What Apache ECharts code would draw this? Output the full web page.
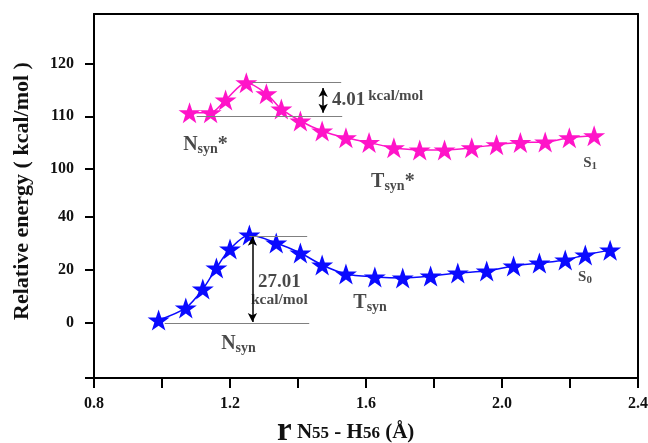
<!DOCTYPE html>
<html>
<head>
<meta charset="utf-8">
<script src="https://cdn.jsdelivr.net/npm/echarts@6/dist/echarts.min.js"></script>
<style>
html, body { margin: 0; padding: 0; background: #ffffff; }
#chart { width: 648px; height: 443px; }
</style>
</head>
<body>
<div id="chart"></div>
<script>
// N55-H56 distance (Å) and relative energy (kcal/mol) along the scan
const s0Distance = [0.99, 1.07, 1.12, 1.16, 1.20, 1.257, 1.336, 1.407, 1.471, 1.541, 1.626, 1.708, 1.790, 1.870, 1.955, 2.034, 2.110, 2.186, 2.245, 2.318];
const s0Energy   = [1.1, 5.7, 12.8, 20.8, 27.9, 33.2, 30.2, 26.4, 21.9, 18.5, 17.4, 17.0, 17.7, 18.9, 19.6, 21.5, 22.6, 23.8, 25.7, 27.5];

const s1Distance = [1.081, 1.143, 1.187, 1.248, 1.307, 1.351, 1.407, 1.471, 1.541, 1.609, 1.682, 1.758, 1.831, 1.911, 1.984, 2.054, 2.127, 2.198, 2.271];
const s1Energy   = [110.7, 110.7, 113.1, 116.4, 114.3, 111.4, 109.1, 107.2, 105.9, 105.0, 104.0, 103.6, 103.6, 104.0, 104.6, 105.0, 105.1, 105.9, 106.3];

// Axis ticks
const xLabelTicks = [0.8, 1.2, 1.6, 2.0, 2.4];
const xAllTicks = [0.8, 1.0, 1.2, 1.4, 1.6, 1.8, 2.0, 2.2, 2.4];
const upperTicks = [100, 110, 120];
const lowerTicks = [0, 20, 40];

// Axis ranges of the two stacked panels (broken energy axis)
const upperRange = [95, 129.5];
const lowerRange = [-20.75, 48.3];

// Barrier guides: [startR, endR, energy]
const s1Guides = [[1.266, 1.527, 116.4], [1.102, 1.530, 110.1]];
const s0Guides = [[1.257, 1.427, 32.8], [1.008, 1.433, 0]];
const s1Arrow = [1.474, 115.4, 110.7];
const s0Arrow = [1.266, 32.5, 0.4];

const PINK = '#ff14c8';
const BLUE = '#0a0aff';
const FONT = '"Liberation Serif", "Times New Roman", serif';
const STAR = 'path://M50,0 L61.8,35.3 L98.9,35.3 L68.9,57.1 L80.3,92.7 L50,70.8 L19.7,92.7 L31.1,57.1 L1.1,35.3 L38.2,35.3 Z';

const zip = (a, b) => a.map((v, i) => [v, b[i]]);

function guideLines(guides, arrow) {
  const lines = guides.map(g => [
    { coord: [g[0], g[2]], symbol: 'none', lineStyle: { color: '#808080', width: 1.2, type: 'solid' } },
    { coord: [g[1], g[2]], symbol: 'none' }
  ]);
  lines.push([
    { coord: [arrow[0], arrow[1]], symbol: 'arrow', symbolSize: [7, 9], lineStyle: { color: '#000', width: 1.5, type: 'solid' } },
    { coord: [arrow[0], arrow[2]], symbol: 'arrow', symbolSize: [7, 9] }
  ]);
  return {
    silent: true,
    animation: false,
    label: { show: false },
    symbol: ['none', 'none'],
    lineStyle: { type: 'solid' },
    data: lines
  };
}

const INK = '#1a1a1a';
const richBase = {
  b: { fontFamily: FONT, fontWeight: 'bold', fontSize: 20, color: INK },
  s: { fontFamily: FONT, fontWeight: 'bold', fontSize: 14, color: INK, padding: [9, 0, 0, 0] },
  m: { fontFamily: FONT, fontWeight: 'bold', fontSize: 15, color: INK },
  n: { fontFamily: FONT, fontWeight: 'bold', fontSize: 19, color: INK },
  k: { fontFamily: FONT, fontWeight: 'bold', fontSize: 15.5, color: INK },
  ks: { fontFamily: FONT, fontWeight: 'bold', fontSize: 15, color: INK, padding: [0, 0, 7, 3] },
  sub: { fontFamily: FONT, fontWeight: 'bold', fontSize: 11, color: INK, padding: [6, 0, 0, 0] }
};

function textSeries(xIdx, yIdx, items) {
  return {
    type: 'scatter',
    xAxisIndex: xIdx,
    yAxisIndex: yIdx,
    symbolSize: 0,
    silent: true,
    animation: false,
    z: 5,
    data: items.map(it => ({
      value: [it.r, it.e],
      label: {
        show: true,
        position: 'inside',
        align: it.align || 'center',
        verticalAlign: 'middle',
        formatter: it.text,
        rich: richBase,
        lineHeight: it.lh || 20
      }
    }))
  };
}

const chart = echarts.init(document.getElementById('chart'), null, { renderer: 'canvas' });

const axisLineStyle = { color: '#000', width: 2 };
const frameLine = { show: true, onZero: false, lineStyle: axisLineStyle };

chart.setOption({
  animation: false,
  backgroundColor: '#ffffff',
  grid: [
    { left: 94, right: 10, top: 14, height: 181, containLabel: false, outerBoundsMode: 'none' },
    { left: 94, right: 10, top: 195, bottom: 65, containLabel: false, outerBoundsMode: 'none' }
  ],
  xAxis: [
    {
      type: 'value', gridIndex: 0, position: 'top', min: 0.8, max: 2.4,
      axisLine: frameLine,
      axisTick: { show: false }, axisLabel: { show: false }, splitLine: { show: false }
    },
    {
      type: 'value', gridIndex: 1, position: 'bottom', min: 0.8, max: 2.4,
      axisLine: frameLine,
      axisTick: { show: true, inside: false, length: 10, lineStyle: { color: '#000', width: 2 }, customValues: xAllTicks },
      axisLabel: {
        show: true, margin: 18, customValues: xLabelTicks,
        fontFamily: FONT, fontWeight: 'bold', fontSize: 16, color: '#111',
        formatter: v => v.toFixed(1)
      },
      splitLine: { show: false }
    }
  ],
  yAxis: [
    {
      type: 'value', gridIndex: 0, position: 'left', min: upperRange[0], max: upperRange[1],
      axisLine: frameLine,
      axisTick: { show: true, inside: false, length: 9, lineStyle: { color: '#000', width: 2 }, customValues: upperTicks },
      axisLabel: { show: true, margin: 20, customValues: upperTicks, fontFamily: FONT, fontWeight: 'bold', fontSize: 16, color: '#111' },
      splitLine: { show: false }
    },
    {
      type: 'value', gridIndex: 0, position: 'right', min: upperRange[0], max: upperRange[1],
      axisLine: frameLine,
      axisTick: { show: false }, axisLabel: { show: false }, splitLine: { show: false }
    },
    {
      type: 'value', gridIndex: 1, position: 'left', min: lowerRange[0], max: lowerRange[1],
      axisLine: frameLine,
      axisTick: { show: true, inside: false, length: 9, lineStyle: { color: '#000', width: 2 }, customValues: [lowerRange[0]].concat(lowerTicks) },
      axisLabel: { show: true, margin: 20, customValues: lowerTicks, fontFamily: FONT, fontWeight: 'bold', fontSize: 16, color: '#111' },
      splitLine: { show: false }
    },
    {
      type: 'value', gridIndex: 1, position: 'right', min: lowerRange[0], max: lowerRange[1],
      axisLine: frameLine,
      axisTick: { show: false }, axisLabel: { show: false }, splitLine: { show: false }
    }
  ],
  series: [
    {
      name: 'S1', type: 'line', xAxisIndex: 0, yAxisIndex: 0,
      data: zip(s1Distance, s1Energy),
      smooth: 0.3,
      symbol: STAR, symbolSize: [22, 21], showAllSymbol: true,
      lineStyle: { color: PINK, width: 1.5 },
      itemStyle: { color: PINK, borderWidth: 0 },
      markLine: guideLines(s1Guides, s1Arrow),
      z: 3
    },
    {
      name: 'S0', type: 'line', xAxisIndex: 1, yAxisIndex: 2,
      data: zip(s0Distance, s0Energy),
      smooth: 0.3,
      symbol: STAR, symbolSize: [22, 21], showAllSymbol: true,
      lineStyle: { color: BLUE, width: 1.5 },
      itemStyle: { color: BLUE, borderWidth: 0 },
      markLine: guideLines(s0Guides, s0Arrow),
      z: 3
    },
    textSeries(0, 0, [
      { r: 1.128, e: 104.6, text: '{b|N}{s|syn}{b|*}' },
      { r: 1.679, e: 97.5, text: '{b|T}{s|syn}{b|*}' },
      { r: 2.259, e: 101.1, text: '{m|S}{sub|1}' },
      { r: 1.500, e: 113.1, align: 'left', text: '{n|4.01}{ks|kcal/mol}' }
    ]),
    textSeries(1, 2, [
      { r: 1.225, e: -7.9, text: '{b|N}{s|syn}' },
      { r: 1.612, e: 7.5, text: '{b|T}{s|syn}' },
      { r: 2.244, e: 17.4, text: '{m|S}{sub|0}' },
      { r: 1.345, e: 12.1, lh: 18, text: '{n|27.01}\n{k|kcal/mol}' }
    ])
  ],
  graphic: [
    {
      type: 'text',
      x: 22, y: 191,
      rotation: Math.PI / 2,
      style: {
        text: 'Relative energy ( kcal/mol )',
        fontFamily: FONT, fontWeight: 'bold', fontSize: 22, fill: '#111',
        align: 'center', verticalAlign: 'middle'
      }
    },
    {
      type: 'text',
      x: 277, y: 431,
      style: {
        text: '{r|r}{t| N}{u|55}{t| - H}{u|56}{t| (Å)}',
        align: 'left', verticalAlign: 'middle',
        rich: {
          r: { fontFamily: FONT, fontWeight: 'bold', fontSize: 33, fill: '#111' },
          t: { fontFamily: FONT, fontWeight: 'bold', fontSize: 21, fill: '#111', padding: [4, 0, 0, 0] },
          u: { fontFamily: FONT, fontWeight: 'bold', fontSize: 17, fill: '#111', padding: [6, 0, 0, 0] }
        }
      }
    }
  ]
});
</script>
</body>
</html>
